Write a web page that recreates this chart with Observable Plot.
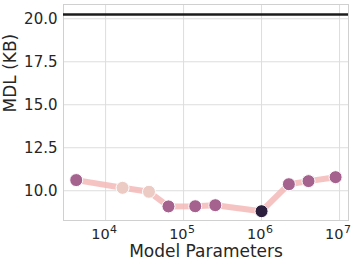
<!DOCTYPE html>
<html>
<head>
<meta charset="utf-8">
<script src="https://cdn.jsdelivr.net/npm/d3@7"></script>
<script src="https://cdn.jsdelivr.net/npm/@observablehq/plot@0.6"></script>
<style>
  html, body { margin: 0; padding: 0; background: white; }
</style>
</head>
<body>
<div id="chart"></div>
<script>
const params = [4200, 16500, 36000, 64000, 141000, 255000, 1000000, 2240000, 4000000, 8900000];
const mdl = [10.62, 10.17, 9.94, 9.09, 9.10, 9.16, 8.81, 10.38, 10.56, 10.79];
const hue = ["mid", "low", "low", "mid", "mid", "mid", "high", "mid", "mid", "mid"];
const baseline = [20.25];
const xTicks = [1e4, 1e5, 1e6, 1e7];
const xTickBase = ["10", "10", "10", "10"];
const xTickExp = ["4", "5", "6", "7"];
const yTicks = [10.0, 12.5, 15.0, 17.5, 20.0];

const data = params.map((p, i) => ({p, v: mdl[i], h: hue[i]}));
const tickData = xTicks.map((t, i) => ({t, base: xTickBase[i], exp: xTickExp[i]}));

const chart = Plot.plot({
  width: 357,
  height: 264,
  marginLeft: 63,
  marginRight: 9,
  marginTop: 4,
  marginBottom: 44,
  style: {fontFamily: "DejaVu Sans", fontSize: "15px", color: "#262626", background: "white"},
  x: {type: "log", domain: [10 ** 3.46, 10 ** 7.115], axis: null},
  y: {domain: [8.27, 20.83]},
  color: {domain: ["low", "mid", "high"], range: ["#ebcbc3", "#a6628f", "#2c1e3d"]},
  marks: [
    Plot.gridX(xTicks, {stroke: "#dddddd", strokeOpacity: 1, strokeWidth: 1}),
    Plot.gridY(yTicks, {stroke: "#dddddd", strokeOpacity: 1, strokeWidth: 1}),
    Plot.frame({stroke: "#d0d0d0", strokeWidth: 1}),
    Plot.text(tickData, {x: "t", text: "base", frameAnchor: "bottom", lineAnchor: "bottom", textAnchor: "end", dx: 4, dy: 18.3, fontSize: 14.5, fill: "#262626"}),
    Plot.text(tickData, {x: "t", text: "exp", frameAnchor: "bottom", lineAnchor: "bottom", textAnchor: "start", dx: 4.5, dy: 12.5, fontSize: 11, fill: "#262626"}),
    Plot.axisY(yTicks, {tickSize: 0, tickPadding: 6, tickFormat: (d) => d.toFixed(1), label: null, fontSize: 15}),
    Plot.ruleY(baseline, {stroke: "#1c1c1c", strokeWidth: 2.5}),
    Plot.line(data, {x: "p", y: "v", stroke: "#f5b8b8", strokeOpacity: 0.85, strokeWidth: 6}),
    Plot.dot(data, {x: "p", y: "v", fill: "h", stroke: "white", strokeWidth: 1, r: 6.5}),
    Plot.text(["Model Parameters"], {frameAnchor: "bottom", dy: 31, fontSize: 17, lineAnchor: "middle", fill: "#262626"}),
    Plot.text(["MDL (KB)"], {frameAnchor: "left", dx: -53, rotate: -90, fontSize: 17, lineAnchor: "middle", fill: "#262626"})
  ]
});
document.getElementById("chart").appendChild(chart);
</script>
</body>
</html>
